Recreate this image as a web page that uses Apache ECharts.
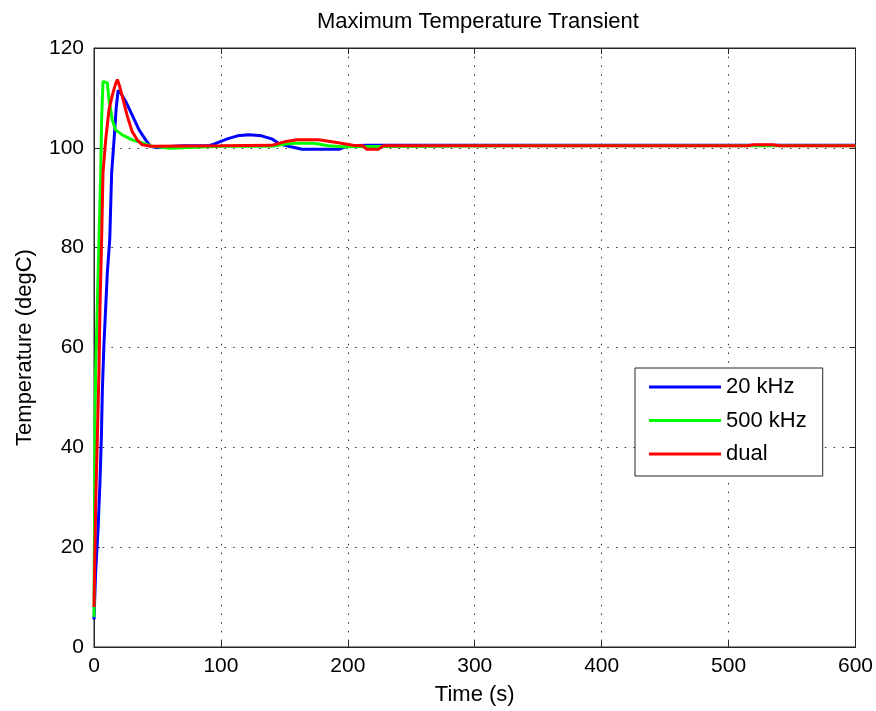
<!DOCTYPE html>
<html>
<head>
<meta charset="utf-8">
<script src="https://cdn.jsdelivr.net/npm/echarts@6/dist/echarts.min.js"></script>
<style>html,body{margin:0;padding:0;background:#fff;}#c{width:876px;height:711px;}</style>
</head>
<body>
<div id="c"></div>
<script>
// ---- data ----
const xTicks = [0, 100, 200, 300, 400, 500, 600];
const yTicks = [0, 20, 40, 60, 80, 100, 120];

const tBlue = [0, 1.3, 3.2, 4.7, 5.8, 6.6, 7.9, 9.2, 10.5, 12.4, 13.9, 15.8, 17.5, 19, 21, 25, 30, 35.5, 40.7, 44.6, 50, 56, 70, 90, 95, 105, 113, 122, 132, 140, 146, 155, 164, 193, 200, 215, 250, 300, 420, 500, 600];
const vBlue = [5.5, 15, 23.6, 33, 42, 51.6, 61, 68, 75, 81.6, 95, 101.6, 108, 111.5, 111, 109.3, 106.6, 103.6, 101.6, 100.3, 100, 100.2, 100.4, 100.4, 100.8, 101.8, 102.4, 102.6, 102.4, 101.8, 100.8, 100.2, 99.7, 99.7, 100.4, 100.5, 100.5, 100.5, 100.5, 100.5, 100.5];

const tGreen = [0, 0.5, 0.8, 1.3, 2.6, 3.9, 5.3, 6, 7.1, 8.5, 10.5, 11.8, 14.4, 17, 22.3, 30, 38, 46, 60, 80, 100, 140, 150, 158, 173, 185, 195, 260, 340, 420, 550, 600];
const vGreen = [6, 30, 45.6, 55, 68, 81.6, 95, 105.6, 113.3, 113.6, 113, 109.6, 105.6, 103.6, 102.6, 101.6, 101, 100.3, 99.9, 100.1, 100.3, 100.3, 100.7, 100.9, 100.9, 100.4, 100.2, 100.3, 100.4, 100.4, 100.4, 100.4];

const tRed = [0, 1.3, 2.6, 3.9, 4.7, 6, 7.1, 9.2, 11.8, 14.4, 17, 18.4, 20, 22.3, 26.3, 30, 34, 38, 45, 100, 140, 150, 160, 177, 190, 204, 212, 215, 224, 228, 300, 515, 520, 535, 540, 600];
const vRed = [8, 28, 41.6, 55, 68, 81.6, 95, 101.6, 107.6, 110.5, 112.8, 113.7, 112.5, 110.3, 106.3, 103.3, 101.6, 100.6, 100.3, 100.4, 100.5, 101.2, 101.6, 101.6, 101.1, 100.5, 100.4, 99.7, 99.7, 100.4, 100.4, 100.4, 100.6, 100.6, 100.4, 100.4];

const seriesNames = ['20 kHz', '500 kHz', 'dual'];
const seriesColors = ['#0000ff', '#00ff00', '#ff0000'];

// ---- build ----
const zip = (t, v) => t.map((x, i) => [x, v[i]]);
const datasets = [zip(tBlue, vBlue), zip(tGreen, vGreen), zip(tRed, vRed)];

const FONT = 'Liberation Sans, Arial, sans-serif';
const axisCol = '#262626';
const xMin = xTicks[0], xMax = xTicks[xTicks.length - 1], xInt = xTicks[1] - xTicks[0];
const yMin = yTicks[0], yMax = yTicks[yTicks.length - 1], yInt = yTicks[1] - yTicks[0];

const chart = echarts.init(document.getElementById('c'), null, {renderer: 'canvas'});
chart.setOption({
  backgroundColor: '#fff',
  animation: false,
  title: {
    text: 'Maximum Temperature Transient',
    left: 312, top: 6,
    textStyle: {fontFamily: FONT, fontSize: 22, fontWeight: 'normal', color: '#000'}
  },
  grid: {left: 94, top: 48, width: 762, height: 600, show: true, borderColor: axisCol, borderWidth: 1},
  legend: {
    data: seriesNames,
    orient: 'vertical',
    left: 635, top: 368,
    padding: [8, 16, 11, 14],
    itemGap: 11.5,
    itemWidth: 72, itemHeight: 3,
    icon: 'rect',
    backgroundColor: '#fff',
    borderColor: axisCol, borderWidth: 1,
    textStyle: {fontFamily: FONT, fontSize: 22, color: '#000', lineHeight: 22}
  },
  xAxis: [{
    type: 'value', min: xMin, max: xMax, interval: xInt,
    name: 'Time (s)', nameLocation: 'middle', nameGap: 37,
    nameTextStyle: {fontFamily: FONT, fontSize: 22, color: '#000'},
    axisLine: {show: true, onZero: false, lineStyle: {color: axisCol, width: 1}},
    axisTick: {show: true, inside: true, length: 6, lineStyle: {color: axisCol}},
    axisLabel: {fontFamily: FONT, fontSize: 21, color: '#000', margin: 9},
    splitLine: {show: true, lineStyle: {color: '#333', width: 1, type: [1.5, 7.2]}}
  }, {
    type: 'value', min: xMin, max: xMax, interval: xInt, position: 'top',
    axisLine: {show: true, onZero: false, lineStyle: {color: axisCol, width: 1}},
    axisTick: {show: true, inside: true, length: 6, lineStyle: {color: axisCol}},
    axisLabel: {show: false}, splitLine: {show: false}
  }],
  yAxis: [{
    type: 'value', min: yMin, max: yMax, interval: yInt,
    name: 'Temperature (degC)', nameLocation: 'middle', nameGap: 58,
    nameTextStyle: {fontFamily: FONT, fontSize: 22, color: '#000'},
    axisLine: {show: true, onZero: false, lineStyle: {color: axisCol, width: 1}},
    axisTick: {show: true, inside: true, length: 6, lineStyle: {color: axisCol}},
    axisLabel: {fontFamily: FONT, fontSize: 21, color: '#000', margin: 10},
    splitLine: {show: true, lineStyle: {color: '#333', width: 1, type: [1.5, 7.2]}}
  }, {
    type: 'value', min: yMin, max: yMax, interval: yInt, position: 'right',
    axisLine: {show: true, onZero: false, lineStyle: {color: axisCol, width: 1}},
    axisTick: {show: true, inside: true, length: 6, lineStyle: {color: axisCol}},
    axisLabel: {show: false}, splitLine: {show: false}
  }],
  series: seriesNames.map((n, i) => ({
    name: n, type: 'line', xAxisIndex: 0, yAxisIndex: 0,
    data: datasets[i], showSymbol: false, symbol: 'none', smooth: false,
    lineStyle: {color: seriesColors[i], width: 3},
    itemStyle: {color: seriesColors[i]},
    z: 2 + i
  }))
});
</script>
</body>
</html>
